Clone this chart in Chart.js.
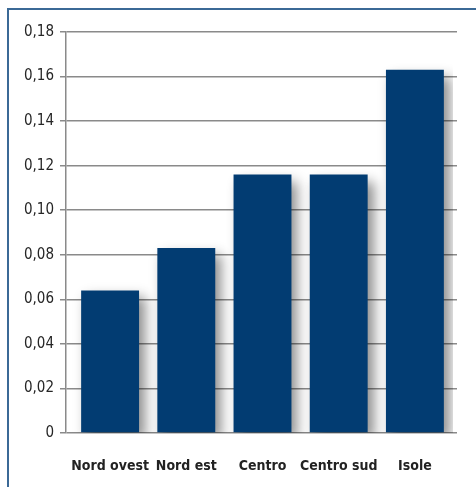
<!DOCTYPE html>
<html>
<head>
<meta charset="utf-8">
<script src="https://cdn.jsdelivr.net/npm/chart.js@4.4.0/dist/chart.umd.min.js"></script>
<style>
  html, body { margin: 0; padding: 0; background: #fff; }
  #wrap { position: relative; width: 476px; height: 487px; overflow: hidden; }
  #frame {
    position: absolute; left: 7px; top: 8px; width: 520px; height: 520px;
    border-top: 2px solid #3b6996; border-left: 2px solid #3b6996;
  }
  canvas { position: absolute; left: 0; top: 0; }
</style>
</head>
<body>
<div id="wrap">
  <div id="frame"></div>
  <canvas id="chart" width="476" height="487"></canvas>
</div>
<script>
const categories = ["Nord ovest", "Nord est", "Centro", "Centro sud", "Isole"];
const values = [0.064, 0.083, 0.116, 0.116, 0.163];
const yMin = 0;
const yMax = 0.18;
const yStep = 0.02;

// drop shadow behind the bars
const barShadow = {
  id: "barShadow",
  beforeDatasetsDraw(chart) {
    const ctx = chart.ctx;
    ctx.save();
    ctx.shadowColor = "rgba(0,0,0,0.45)";
    ctx.shadowBlur = 12;
    ctx.shadowOffsetX = 6;
    ctx.shadowOffsetY = 7;
  },
  afterDatasetsDraw(chart) {
    chart.ctx.restore();
  }
};

// bars sit a little inside the gridlines on both sides
const insetCategories = {
  id: "insetCategories",
  afterLayout(chart) {
    const x = chart.scales.x;
    x.left += 6;
    x.right -= 4;
    x.width = x.right - x.left;
    x.configure();
  }
};

const font = "'DejaVu Sans Condensed', 'Liberation Sans Narrow', sans-serif";

new Chart(document.getElementById("chart").getContext("2d"), {
  type: "bar",
  data: {
    labels: categories,
    datasets: [{
      data: values,
      backgroundColor: "#023c72",
      borderWidth: 0,
      categoryPercentage: 1,
      barPercentage: 0.76
    }]
  },
  options: {
    responsive: false,
    animation: false,
    layout: { padding: { left: 0, right: 19, top: 32, bottom: 0 } },
    plugins: { legend: { display: false }, tooltip: { enabled: false } },
    scales: {
      x: {
        grid: { display: false },
        border: { display: false },
        ticks: {
          padding: 17,
          autoSkip: false,
          color: "#222",
          font: { family: font, size: 14, weight: "bold" },
          maxRotation: 0
        },
        afterFit(scale) { scale.height = 54; }
      },
      y: {
        min: yMin,
        max: yMax,
        grid: { color: "#8a8a8a", lineWidth: 1.5, tickLength: 6 },
        border: { color: "#8a8a8a", width: 1.5 },
        ticks: {
          stepSize: yStep,
          padding: 6,
          color: "#262626",
          font: { family: font, size: 15 },
          callback: v => v === 0 ? "0" : v.toFixed(2).replace(".", ",")
        },
        afterFit(scale) { scale.width = 66; }
      }
    }
  },
  plugins: [barShadow, insetCategories]
});
</script>
</body>
</html>
